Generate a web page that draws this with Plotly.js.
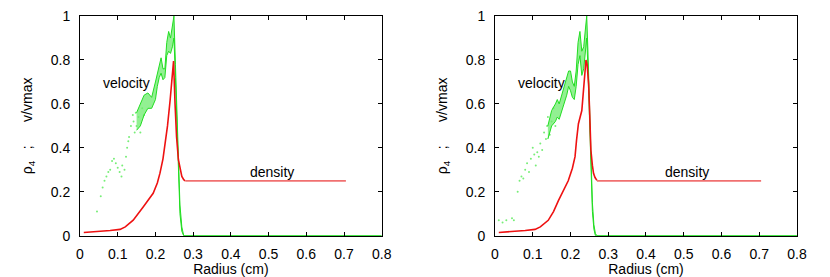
<!DOCTYPE html>
<html>
<head>
<meta charset="utf-8">
<script src="https://cdn.plot.ly/plotly-3.0.1.min.js"></script>
<style>html,body{margin:0;padding:0;background:#fff;}#chart{width:830px;height:277px;}</style>
</head>
<body>
<div id="chart"></div>
<script>
// ---------- Left panel data ----------
const densL_r = [0.01,0.03,0.053,0.08,0.106,0.12,0.141,0.155,0.168,0.18,0.194,0.205,0.212,0.22,0.225,0.232,0.239,0.244,0.248,0.252,0.256,0.261,0.266,0.27,0.275,0.279];
const densL_v = [0.015,0.017,0.021,0.024,0.029,0.04,0.071,0.1,0.132,0.16,0.193,0.24,0.285,0.35,0.405,0.5,0.618,0.72,0.795,0.6,0.45,0.345,0.3,0.27,0.255,0.25];
const flatL_r = [0.279,0.705];
const flatL_v = [0.25,0.25];
const velBandL_r = [0.15,0.16,0.17,0.18,0.19,0.2,0.205,0.21,0.215,0.22,0.225,0.23,0.235,0.24,0.245,0.249,0.253,0.257,0.261,0.265,0.27,0.275,0.8];
const velUpL_v   = [0.56,0.6,0.64,0.65,0.63,0.7,0.74,0.78,0.81,0.76,0.76,0.88,0.93,0.9,0.95,1.0,0.78,0.55,0.3,0.14,0.04,0.0,0.0];
const velLoL_v   = [0.48,0.5,0.55,0.58,0.58,0.62,0.68,0.72,0.74,0.71,0.72,0.82,0.84,0.83,0.86,0.9,0.72,0.48,0.25,0.1,0.02,0.0,0.0];
const velDotsL_r = [0.045,0.055,0.06,0.065,0.07,0.075,0.08,0.085,0.09,0.095,0.1,0.105,0.11,0.112,0.118,0.122,0.125,0.128,0.13,0.135,0.14,0.142,0.145,0.148,0.15,0.155,0.16,0.165,0.17];
const velDotsL_v = [0.11,0.18,0.22,0.25,0.27,0.29,0.3,0.34,0.35,0.33,0.31,0.29,0.27,0.32,0.3,0.36,0.4,0.43,0.45,0.5,0.55,0.52,0.47,0.56,0.5,0.54,0.47,0.58,0.55];

// ---------- Right panel data ----------
const densR_r = [0.01,0.03,0.053,0.08,0.106,0.12,0.141,0.155,0.168,0.18,0.194,0.205,0.212,0.216,0.221,0.23,0.235,0.241,0.244,0.248,0.251,0.254,0.258,0.261,0.265,0.27];
const densR_v = [0.015,0.017,0.021,0.024,0.029,0.04,0.07,0.11,0.16,0.2,0.25,0.307,0.36,0.435,0.51,0.57,0.68,0.80,0.78,0.69,0.55,0.39,0.32,0.284,0.265,0.252];
const flatR_r = [0.27,0.705];
const flatR_v = [0.25,0.25];
const velBandR_r = [0.14,0.15,0.16,0.165,0.17,0.18,0.19,0.195,0.2,0.205,0.21,0.215,0.22,0.225,0.23,0.235,0.24,0.243,0.246,0.25,0.254,0.258,0.262,0.266,0.27,0.8];
const velUpR_v   = [0.5,0.57,0.6,0.62,0.6,0.66,0.72,0.75,0.75,0.7,0.68,0.75,0.88,0.93,0.84,0.86,0.95,1.0,0.85,0.6,0.35,0.15,0.05,0.01,0,0];
const velLoR_v   = [0.44,0.5,0.52,0.54,0.53,0.58,0.64,0.68,0.66,0.63,0.62,0.68,0.78,0.82,0.73,0.76,0.84,0.9,0.77,0.52,0.28,0.11,0.03,0,0,0];
const velDotsR_r = [0.01,0.02,0.03,0.045,0.05,0.06,0.065,0.07,0.075,0.08,0.085,0.09,0.095,0.1,0.104,0.108,0.112,0.116,0.12,0.125,0.13,0.135,0.138,0.14,0.145,0.15,0.155,0.16];
const velDotsR_v = [0.07,0.06,0.07,0.08,0.07,0.2,0.25,0.27,0.26,0.3,0.33,0.29,0.35,0.4,0.37,0.32,0.38,0.36,0.42,0.39,0.47,0.44,0.5,0.54,0.46,0.52,0.58,0.5];

// ---------- Labels ----------
const xTitle = 'Radius (cm)';
const yTitle = 'ρ<sub>4</sub>\u00a0\u00a0\u00a0;\u00a0\u00a0\u00a0\u00a0\u00a0\u00a0v/vmax';
const velLabel = 'velocity';
const densLabel = 'density';

const GREEN = '#22dd22', LGREEN = 'rgba(110,235,110,0.75)', RED = '#ee1111', PINK = '#f07070';

function panel(xa, ya, dR, dV, fR, fV, bR, up, lo, dotR, dotV) {
  return [
    {x: dotR, y: dotV, xaxis: xa, yaxis: ya, mode: 'markers', type: 'scatter',
     marker: {color: '#77ee77', size: 2}, hoverinfo: 'skip'},
    {x: bR, y: lo, xaxis: xa, yaxis: ya, mode: 'lines', type: 'scatter',
     line: {color: GREEN, width: 1}, hoverinfo: 'skip'},
    {x: bR, y: up, xaxis: xa, yaxis: ya, mode: 'lines', type: 'scatter', fill: 'tonexty',
     fillcolor: LGREEN, line: {color: GREEN, width: 1}, hoverinfo: 'skip'},
    {x: dR, y: dV, xaxis: xa, yaxis: ya, mode: 'lines', type: 'scatter',
     line: {color: RED, width: 1.6}, hoverinfo: 'skip'},
    {x: fR, y: fV, xaxis: xa, yaxis: ya, mode: 'lines', type: 'scatter',
     line: {color: PINK, width: 1.8}, hoverinfo: 'skip'}
  ];
}

const data = [
  ...panel('x', 'y', densL_r, densL_v, flatL_r, flatL_v, velBandL_r, velUpL_v, velLoL_v, velDotsL_r, velDotsL_v),
  ...panel('x2', 'y2', densR_r, densR_v, flatR_r, flatR_v, velBandR_r, velUpR_v, velLoR_v, velDotsR_r, velDotsR_v)
];

const font = {family: 'Liberation Sans, Arial, sans-serif', size: 14, color: '#000'};
function xax(dom, anchor) {
  return {domain: dom, anchor: anchor, range: [0, 0.8], dtick: 0.1, tick0: 0,
    ticks: 'inside', ticklen: 4, tickcolor: '#000', mirror: 'ticks', showline: true,
    linecolor: '#000', linewidth: 1, showgrid: false, zeroline: false,
    tickfont: font, ticklabelstandoff: 5,
    title: {text: xTitle, font: font, standoff: 8}};
}
function yax(anchor) {
  return {domain: [0.149, 0.942], anchor: anchor, range: [0, 1], dtick: 0.2, tick0: 0,
    ticks: 'inside', ticklen: 4, tickcolor: '#000', mirror: 'ticks', showline: true,
    linecolor: '#000', linewidth: 1, showgrid: false, zeroline: false,
    tickfont: font, ticklabelstandoff: 6,
    title: {text: yTitle, font: font, standoff: 14}};
}

const layout = {
  width: 830, height: 277,
  margin: {l: 0, r: 0, t: 0, b: 0},
  paper_bgcolor: '#fff', plot_bgcolor: '#fff',
  showlegend: false,
  font: font,
  xaxis: xax([0.0964, 0.4599], 'y'),
  yaxis: yax('x'),
  xaxis2: xax([0.5964, 0.9602], 'y2'),
  yaxis2: yax('x2'),
  annotations: [
    {xref: 'x', yref: 'y', x: 0.124, y: 0.695, text: velLabel, showarrow: false, font: font},
    {xref: 'x', yref: 'y', x: 0.508, y: 0.291, text: densLabel, showarrow: false, font: font},
    {xref: 'x2', yref: 'y2', x: 0.124, y: 0.695, text: velLabel, showarrow: false, font: font},
    {xref: 'x2', yref: 'y2', x: 0.508, y: 0.291, text: densLabel, showarrow: false, font: font}
  ]
};

Plotly.newPlot('chart', data, layout, {staticPlot: true, displayModeBar: false});
</script>
</body>
</html>
